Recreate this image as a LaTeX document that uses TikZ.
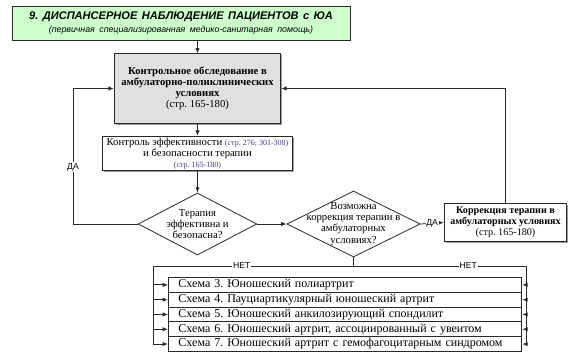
\documentclass[tikz,border=0pt]{standalone}
\usepackage{fontspec}
\setmainfont{Liberation Serif}
\newfontfamily\arialfont{Liberation Sans}
\usetikzlibrary{arrows.meta}
\usetikzlibrary{shapes.geometric, shadows, math}
\definecolor{titlegreen}{RGB}{204,255,204}
\definecolor{boxgray}{RGB}{224,224,224}
\definecolor{linegray}{RGB}{40,40,40}
\definecolor{pageblue}{RGB}{60,60,140}
\frenchspacing

\tikzset{
  shadowed/.style={draw=linegray, line width=0.6pt,
    drop shadow={shadow xshift=1.1pt, shadow yshift=-1.1pt, fill=gray!80, opacity=1}},
  titlebox/.style={shadowed, fill=titlegreen, inner sep=0pt, align=center,
    text width=250pt, minimum width=253.5pt, minimum height=25.5pt},
  stagebox/.style={shadowed, fill=white, inner sep=0pt, align=center,
    font=\fontsize{8}{8.2}\selectfont},
  decision/.style={draw=linegray, line width=0.6pt, diamond, fill=white, inner sep=0pt},
  decisiontext/.style={align=center, inner sep=0pt, font=\fontsize{8}{8.4}\selectfont},
  schemebox/.style={draw=linegray, line width=0.7pt, fill=white, anchor=north west,
    minimum width=265pt, minimum height=11.1pt, inner sep=0pt,
    text width=260pt, align=left, font=\fontsize{9}{9}\selectfont},
  answer/.style={fill=white, inner sep=0.6pt, font=\arialfont\fontsize{6.5}{6.5}\selectfont},
  link/.style={draw=linegray, line width=0.6pt},
  arr/.style={-{Latex[length=4pt, width=3.2pt]}},
}

\begin{document}
\begin{tikzpicture}[x=0.75pt, y=-0.75pt]
\tikzmath{
\rowh=14.8;
}
\useasboundingbox (0,0) rectangle (576,364);

% header and stages
\node[titlebox] (title) at (181,23)
  {\arialfont\bfseries\itshape\fontsize{8.3}{10}\selectfont 9. ДИСПАНСЕРНОЕ НАБЛЮДЕНИЕ ПАЦИЕНТОВ с ЮА\par
   \mdseries\fontsize{6.6}{9.5}\selectfont (первичная специализированная медико-санитарная помощь)\par};

\node[stagebox, fill=boxgray, minimum width=125pt, minimum height=52pt] (exam) at (197.5,88.5)
  {\textbf{Контрольное обследование в}\\\textbf{амбулаторно-поликлинических}\\\textbf{условиях}\\(стр. 165-180)};

\node[stagebox, minimum width=142.5pt, minimum height=26pt] (control) at (197.5,153.5)
  {Контроль эффективности {\color{pageblue}\fontsize{6}{6}\selectfont(стр. 276; 301-308)}\\%
   и безопасности терапии\\{\color{pageblue}\fontsize{6}{7}\selectfont(стр. 165-180)}};

\node[decision, minimum width=89pt, minimum height=46.5pt] (safe) at (197.5,224) {};
\node[decisiontext] (safetext) at (safe.center) {Терапия\\эффективна и\\безопасна?};

\node[decision, minimum width=100pt, minimum height=49.5pt] (adjust) at (353.5,224) {};
\node[decisiontext] (adjusttext) at (adjust.center) {Возможна\\коррекция терапии в\\амбулаторных\\условиях?};

\node[stagebox, minimum width=92pt, minimum height=29pt, font=\fontsize{7.6}{8.2}\selectfont] (correct) at (505.5,222.5)
  {\textbf{Коррекция терапии в}\\\textbf{амбулаторных условиях}\\(стр. 165-180)};

% schemes
\foreach \n/\t [count=\i from 0] in {3/{Юношеский полиартрит},
    4/{Пауциартикулярный юношеский артрит},
    5/{Юношеский анкилозирующий спондилит},
    6/{Юношеский артрит, ассоциированный с увеитом},
    7/{Юношеский артрит с гемофагоцитарным синдромом}}
  \node[schemebox] (row\n) at (168,277+\rowh*\i) {\hspace{5pt}Схема \n. \t};

\coordinate (yesx) at (73,0);
\coordinate (netL) at (153,266);
\coordinate (netR) at (526,266);

% connectors
\draw[link,arr] (title.south -| exam) -- (exam.north);
\draw[link,arr] (exam) -- (control);
\draw[link,arr] (control) -- (safe.north);
\draw[link,arr] (safe.west) -- (safe.west -| yesx) |- (exam.west)
  node[answer, pos=0.21] {ДА};
\draw[link,arr] (safe.east) -- (adjust.west);
\draw[link,arr] (adjust.east) -- node[answer] {ДА} (correct.west);
\draw[link,arr] (correct.north) |- (exam.east);
\draw[link] (adjust.south) -- (adjust.south |- netL);
\draw[link] (netL) -- node[answer, pos=0.238] {НЕТ} node[answer, pos=0.845] {НЕТ} (netR);
\draw[link] (netL) -- (netL |- row7.west);
\draw[link] (netR) -- (netR |- row7.east);
\foreach \n in {3,...,7} {
  \draw[link,arr] (netL |- row\n.west) -- (row\n.west);
  \draw[link,arr] (netR |- row\n.east) -- (row\n.east);
}

\end{tikzpicture}
\end{document}
